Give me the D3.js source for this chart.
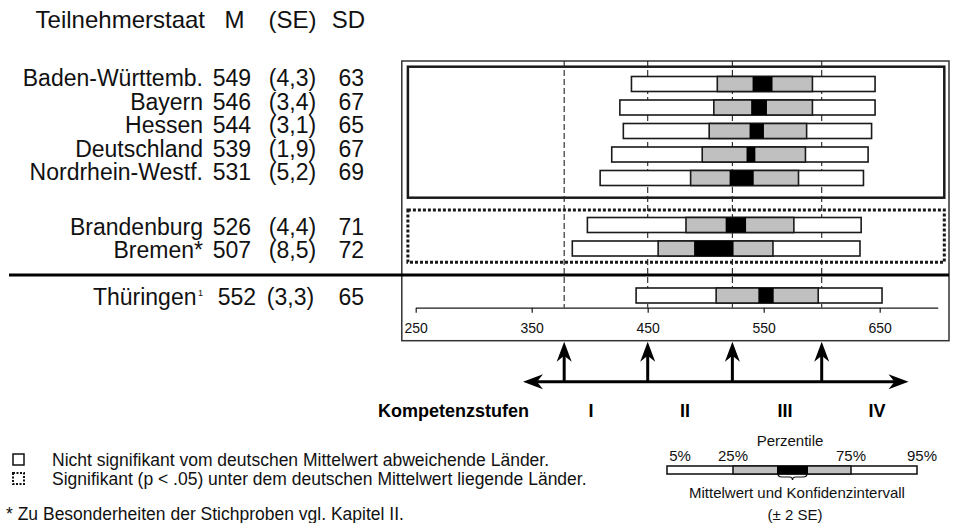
<!DOCTYPE html>
<html><head><meta charset="utf-8">
<script src="https://cdn.jsdelivr.net/npm/d3@7"></script>
<style>body{margin:0;background:#fff} svg{display:block;font-family:"Liberation Sans",Arial,sans-serif}</style>
</head><body><svg id="c" width="953" height="523"></svg>
<script>
// ---------- data ----------
const states = ["Baden-Württemb.", "Bayern", "Hessen", "Deutschland", "Nordrhein-Westf.", "Brandenburg", "Bremen*", "Thüringen"];
const means = [549, 546, 544, 539, 531, 526, 507, 552];
const seLabels = ["(4,3)", "(3,4)", "(3,1)", "(1,9)", "(5,2)", "(4,4)", "(8,5)", "(3,3)"];
const seValues = [4.3, 3.4, 3.1, 1.9, 5.2, 4.4, 8.5, 3.3];
const sds = [63, 67, 65, 67, 69, 71, 72, 65];
const p5 = [436, 426, 429, 419, 409, 398, 385, 440];
const p25 = [510, 507, 503, 497, 487, 483, 459, 509];
const p75 = [592, 592, 587, 586, 580, 576, 558, 597];
const p95 = [646, 646, 643, 640, 636, 634, 633, 652];
const groups = [1, 1, 1, 1, 1, 2, 2, 3];
const slots = [0, 1, 2, 3, 4, 6, 7, 9];
const levelCuts = [378, 450, 523, 600];
const levelLabels = ["I", "II", "III", "IV"];
const axisTicks = [250, 350, 450, 550, 650];
const headers = ["Teilnehmerstaat", "M", "(SE)", "SD"];
const legendPercentLabels = ["5%", "25%", "75%", "95%"];
const legendStops = [0, 0.264, 0.44, 0.564, 0.736, 1];

// ---------- setup ----------
const svg = d3.select("#c");
const x = d3.scaleLinear().domain([250, 700]).range([415.7, 937.7]);
const y = d3.scaleLinear().domain([0, 9]).range([84, 295.5]);
const barH = 15;
const ink = "#1a1a1a";

// outer frame
const frame = {l: 401.8, t: 61, r: 949, b: 340.7};
svg.append("rect").attr("x", frame.l).attr("y", frame.t)
  .attr("width", frame.r - frame.l).attr("height", frame.b - frame.t)
  .attr("fill", "none").attr("stroke", "#333").attr("stroke-width", 1.5);

// group boxes
const boxL = 407.9, boxR = 944.3;
svg.append("rect").attr("x", boxL).attr("y", y(0) - 17.3)
  .attr("width", boxR - boxL).attr("height", y(4) + 19.7 - (y(0) - 17.3))
  .attr("fill", "none").attr("stroke", ink).attr("stroke-width", 2.5);
svg.append("rect").attr("x", boxL).attr("y", y(6) - 15)
  .attr("width", boxR - boxL).attr("height", y(7) + 13.8 - (y(6) - 15))
  .attr("fill", "none").attr("stroke", ink).attr("stroke-width", 3)
  .attr("stroke-dasharray", "3,2");

// separator
svg.append("line").attr("x1", 9).attr("x2", frame.r).attr("y1", 275).attr("y2", 275)
  .attr("stroke", "#000").attr("stroke-width", 3);

// axis
const axisY = 307.7;
const axis = d3.axisBottom(x).tickValues(axisTicks).tickSize(5).tickSizeOuter(0).tickPadding(10);
const ag = svg.append("g").attr("transform", `translate(0,${axisY})`).call(axis);
ag.select(".domain").attr("stroke", ink).attr("stroke-width", 1.2);
ag.selectAll(".tick line").attr("stroke", ink).attr("stroke-width", 1.2);
ag.selectAll(".tick text").attr("font-size", 14).attr("fill", "#111")
  .attr("font-family", "Liberation Sans, Arial, sans-serif");

// dashed level lines
svg.selectAll("line.level").data(levelCuts).join("line")
  .attr("x1", d => x(d)).attr("x2", d => x(d))
  .attr("y1", frame.t).attr("y2", axisY)
  .attr("stroke", "#222").attr("stroke-width", 1.1).attr("stroke-dasharray", "6,3");

// bars
const rows = states.map((s, i) => ({i, s, m: means[i], se: seValues[i], g: groups[i], slot: slots[i]}));
const bg = svg.append("g");
rows.forEach(r => {
  const cy = y(r.slot);
  bg.append("rect").attr("x", x(p5[r.i])).attr("y", cy - barH / 2)
    .attr("width", x(p95[r.i]) - x(p5[r.i])).attr("height", barH)
    .attr("fill", "#fff").attr("stroke", ink).attr("stroke-width", 1.6);
  bg.append("rect").attr("x", x(p25[r.i])).attr("y", cy - barH / 2)
    .attr("width", x(p75[r.i]) - x(p25[r.i])).attr("height", barH)
    .attr("fill", "#c0c0c0").attr("stroke", ink).attr("stroke-width", 1.6);
  bg.append("rect").attr("x", x(r.m - 2 * r.se)).attr("y", cy - barH / 2)
    .attr("width", x(r.m + 2 * r.se) - x(r.m - 2 * r.se)).attr("height", barH)
    .attr("fill", "#000");
});

// table
const tFont = 23;
const colName = 205, colM = 251, colSE = 292.5, colSD = 364;
const tg = svg.append("g").attr("font-size", tFont).attr("fill", "#111");
const hg = tg.append("g").attr("font-size", 24);
hg.append("text").attr("x", colName).attr("y", 28).attr("text-anchor", "end").text(headers[0]);
hg.append("text").attr("x", 234.5).attr("y", 28).attr("text-anchor", "middle").text(headers[1]);
hg.append("text").attr("x", colSE).attr("y", 28).attr("text-anchor", "middle").text(headers[2]);
hg.append("text").attr("x", colSD + 1).attr("y", 28).attr("text-anchor", "end").text(headers[3]);
rows.forEach(r => {
  const base = y(r.slot) + (r.g === 1 ? 2 : 9.5);
  const t = tg.append("text").attr("x", colName - (r.g === 3 ? 2 : 2)).attr("y", base).attr("text-anchor", "end");
  t.text(r.s);
  if (r.g === 3) t.append("tspan").attr("dx", 1.5).attr("dy", -9).attr("font-size", 9).text("1");
  tg.append("text").attr("x", colM + (r.g === 3 ? 5 : 0)).attr("y", base).attr("text-anchor", "end").text(means[r.i]);
  tg.append("text").attr("x", colSE - (r.g === 3 ? 2 : 0)).attr("y", base).attr("text-anchor", "middle").text(seLabels[r.i]);
  tg.append("text").attr("x", colSD).attr("y", base).attr("text-anchor", "end").text(sds[r.i]);
});

// arrows
const arrowLineY = 381.7, tipY = 341.7;
function headUp(cx, ty) {
  return `M${cx},${ty} L${cx - 7.5},${ty + 20} L${cx},${ty + 14} L${cx + 7.5},${ty + 20} Z`;
}
const arg = svg.append("g");
levelCuts.forEach(c => {
  const cx = x(c);
  arg.append("line").attr("x1", cx).attr("x2", cx).attr("y1", tipY + 12).attr("y2", arrowLineY)
    .attr("stroke", "#000").attr("stroke-width", 3);
  arg.append("path").attr("d", headUp(cx, tipY)).attr("fill", "#000");
});
const aL = 523, aR = 908.5;
arg.append("line").attr("x1", aL + 12).attr("x2", aR - 12).attr("y1", arrowLineY).attr("y2", arrowLineY)
  .attr("stroke", "#000").attr("stroke-width", 3);
arg.append("path").attr("d", `M${aL},${arrowLineY} L${aL + 20},${arrowLineY - 7.5} L${aL + 14},${arrowLineY} L${aL + 20},${arrowLineY + 7.5} Z`).attr("fill", "#000");
arg.append("path").attr("d", `M${aR},${arrowLineY} L${aR - 20},${arrowLineY - 7.5} L${aR - 14},${arrowLineY} L${aR - 20},${arrowLineY + 7.5} Z`).attr("fill", "#000");

// Kompetenzstufen labels
const kg = svg.append("g").attr("font-size", 18).attr("font-weight", "bold").attr("fill", "#000");
kg.append("text").attr("x", 378).attr("y", 417).attr("text-anchor", "start").text("Kompetenzstufen");
const levelLabelX = [591, 685, 785, 877];
levelLabels.forEach((l, i) => {
  kg.append("text").attr("x", levelLabelX[i]).attr("y", 417).attr("text-anchor", "middle").text(l);
});

// left legend
const lg = svg.append("g").attr("font-size", 17.5).attr("fill", "#111");
lg.append("rect").attr("x", 13).attr("y", 454).attr("width", 11).attr("height", 11)
  .attr("fill", "none").attr("stroke", "#111").attr("stroke-width", 1.5);
lg.append("rect").attr("x", 13).attr("y", 473).attr("width", 11).attr("height", 11)
  .attr("fill", "none").attr("stroke", "#111").attr("stroke-width", 2).attr("stroke-dasharray", "2,1.5");
lg.append("text").attr("x", 52).attr("y", 466).text("Nicht signifikant vom deutschen Mittelwert abweichende Länder.");
lg.append("text").attr("x", 52).attr("y", 485).text("Signifikant (p < .05) unter dem deutschen Mittelwert liegende Länder.");
lg.append("text").attr("x", 6).attr("y", 520).text("* Zu Besonderheiten der Stichproben vgl. Kapitel II.");

// right legend (schematic bar)
const lx = d3.scaleLinear().domain([0, 1]).range([667, 917]);
const rg = svg.append("g").attr("font-size", 15).attr("fill", "#111");
rg.append("text").attr("x", 790).attr("y", 446).attr("text-anchor", "middle").text("Perzentile");
const pctX = [680, 733, 851, 922];
legendPercentLabels.forEach((p, i) => {
  rg.append("text").attr("x", pctX[i]).attr("y", 461).attr("text-anchor", "middle").text(p);
});
const lbY = 466, lbH = 8;
rg.append("rect").attr("x", lx(legendStops[0])).attr("y", lbY).attr("width", lx(legendStops[5]) - lx(legendStops[0])).attr("height", lbH)
  .attr("fill", "#fff").attr("stroke", ink).attr("stroke-width", 1.6);
rg.append("rect").attr("x", lx(legendStops[1])).attr("y", lbY).attr("width", lx(legendStops[4]) - lx(legendStops[1])).attr("height", lbH)
  .attr("fill", "#c0c0c0").attr("stroke", ink).attr("stroke-width", 1.6);
rg.append("rect").attr("x", lx(legendStops[2])).attr("y", lbY).attr("width", lx(legendStops[3]) - lx(legendStops[2])).attr("height", lbH)
  .attr("fill", "#000");
// brace under mean box
const b0 = lx(legendStops[2]) + 1, b1 = lx(legendStops[3]) - 1, bm = (b0 + b1) / 2, by = lbY + lbH;
rg.append("path").attr("d", `M${b0},${by} Q${b0},${by + 3} ${b0 + 4},${by + 3} L${bm - 3},${by + 3} Q${bm},${by + 3} ${bm},${by + 6} Q${bm},${by + 3} ${bm + 3},${by + 3} L${b1 - 4},${by + 3} Q${b1},${by + 3} ${b1},${by}`)
  .attr("fill", "none").attr("stroke", "#111").attr("stroke-width", 1.2);
rg.append("text").attr("x", 797).attr("y", 498).attr("text-anchor", "middle").text("Mittelwert und Konfidenzintervall");
rg.append("text").attr("x", 795).attr("y", 520).attr("text-anchor", "middle").text("(± 2 SE)");
</script></body></html>
